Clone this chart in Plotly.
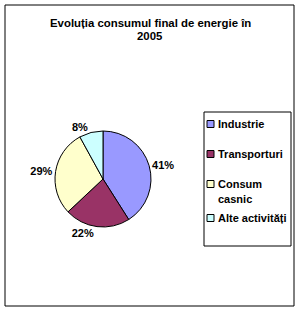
import plotly.graph_objects as go

categories = ["Industrie", "Transporturi", "Consum casnic", "Alte activități"]
legend_lines = [["Industrie"], ["Transporturi"], ["Consum", "casnic"], ["Alte activități"]]
values = [41, 22, 29, 8]
colors = ["#9999FF", "#993366", "#FFFFCC", "#CCFFFF"]

W, H = 300, 312
FONT = "Liberation Sans, Arial, sans-serif"

def px(x):
    return x / W

def py(y):
    return 1 - y / H

fig = go.Figure()
fig.add_trace(go.Pie(
    labels=categories,
    values=values,
    sort=False,
    direction="clockwise",
    rotation=0,
    marker=dict(colors=colors, line=dict(color="black", width=1)),
    textposition="outside",
    texttemplate="<b>%{percent:.0%}</b>",
    textfont=dict(family=FONT, size=11, color="black"),
    domain=dict(x=[px(55), px(151)], y=[py(227), py(131)]),
    showlegend=False,
    hoverinfo="label+percent",
))

shapes = [
    dict(type="rect", xref="paper", yref="paper",
         x0=px(5), x1=px(294), y0=py(306), y1=py(5),
         line=dict(color="black", width=1)),
    dict(type="rect", xref="paper", yref="paper",
         x0=px(204), x1=px(291), y0=py(246), y1=py(112),
         line=dict(color="black", width=1)),
]
annotations = [
    dict(text="<b>Evoluția consumul final de energie în</b>", xref="paper", yref="paper",
         x=px(150), y=py(23), xanchor="center", yanchor="middle", showarrow=False,
         font=dict(family=FONT, size=11.4, color="black")),
    dict(text="<b>2005</b>", xref="paper", yref="paper",
         x=px(150), y=py(36), xanchor="center", yanchor="middle", showarrow=False,
         font=dict(family=FONT, size=11.4, color="black")),
]

# manual legend (Excel-style), built from the category list and colours
item_y = [124, 154, 184, 218]
line_gap = 15
for lines, col, yc in zip(legend_lines, colors, item_y):
    shapes.append(dict(type="rect", xref="paper", yref="paper",
                       x0=px(207), x1=px(214), y0=py(yc + 3.5), y1=py(yc - 3.5),
                       fillcolor=col, line=dict(color="black", width=1)))
    for i, t in enumerate(lines):
        annotations.append(dict(text=f"<b>{t}</b>", xref="paper", yref="paper",
                                x=px(216), y=py(yc + i * line_gap), xanchor="left",
                                yanchor="middle", showarrow=False,
                                font=dict(family=FONT, size=11, color="black")))

fig.update_layout(
    width=W, height=H,
    margin=dict(l=0, r=0, t=0, b=0),
    paper_bgcolor="white",
    plot_bgcolor="white",
    font=dict(family=FONT, size=11, color="black"),
    showlegend=False,
    shapes=shapes,
    annotations=annotations,
)

fig.write_html("out.html")
